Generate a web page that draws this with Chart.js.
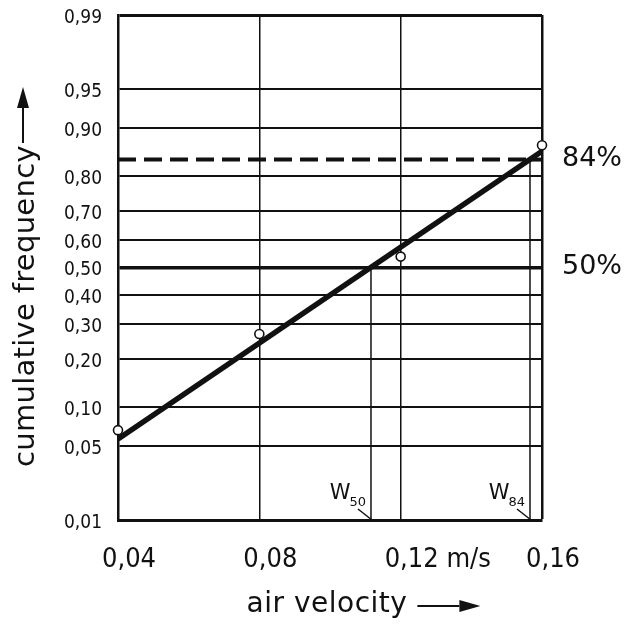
<!DOCTYPE html>
<html>
<head>
<meta charset="utf-8">
<title>cumulative frequency vs air velocity</title>
<script src="https://cdn.jsdelivr.net/npm/chart.js@4/dist/chart.umd.min.js"></script>
<style>
  html, body { margin: 0; padding: 0; background: #fff; }
  #wrap { width: 635px; height: 625px; }
</style>
</head>
<body>
<div id="wrap"><canvas id="probChart" width="635" height="625"></canvas></div>
<script>
// measured points (air velocity in m/s, cumulative frequency)
const velocity = [0.04, 0.08, 0.12, 0.16];
const cumFreq = [0.067, 0.27, 0.54, 0.87];

// fitted straight line in probability coordinates
const fitVelocity = [0.04, 0.16];
const fitFreq = [0.057, 0.858];

// characteristic velocities read at 50 % and 84 %
const w50 = 0.1116;
const w84 = 0.1566;
const levels = [0.84, 0.5];

// axis ticks
const probTicks = [0.01, 0.05, 0.10, 0.20, 0.30, 0.40, 0.50, 0.60, 0.70, 0.80, 0.90, 0.95, 0.99];
const velocityTicks = [0.04, 0.08, 0.12, 0.16];

const xTitle = "air velocity";
const yTitle = "cumulative frequency";

const TICK_FONT = "'DejaVu Sans Condensed', 'DejaVu Sans'";
const TEXT_FONT = "'DejaVu Sans'";

// inverse of the standard normal CDF (Acklam's approximation)
function probit(p) {
  const a = [-3.969683028665376e+01, 2.209460984245205e+02, -2.759285104469687e+02,
    1.383577518672690e+02, -3.066479806614716e+01, 2.506628277459239e+00];
  const b = [-5.447609879822406e+01, 1.615858368580409e+02, -1.556989798598866e+02,
    6.680131188771972e+01, -1.328068155288572e+01];
  const c = [-7.784894002430293e-03, -3.223964580411365e-01, -2.400758277161838e+00,
    -2.549732539343734e+00, 4.374664141464968e+00, 2.938163982698783e+00];
  const d = [7.784695709041462e-03, 3.224671290700398e-01, 2.445134137142996e+00,
    3.754408661907416e+00];
  const pl = 0.02425;
  if (p < pl) {
    const q = Math.sqrt(-2 * Math.log(p));
    return (((((c[0] * q + c[1]) * q + c[2]) * q + c[3]) * q + c[4]) * q + c[5]) /
      ((((d[0] * q + d[1]) * q + d[2]) * q + d[3]) * q + 1);
  }
  if (p > 1 - pl) {
    const q = Math.sqrt(-2 * Math.log(1 - p));
    return -(((((c[0] * q + c[1]) * q + c[2]) * q + c[3]) * q + c[4]) * q + c[5]) /
      ((((d[0] * q + d[1]) * q + d[2]) * q + d[3]) * q + 1);
  }
  const q = p - 0.5;
  const r = q * q;
  return (((((a[0] * r + a[1]) * r + a[2]) * r + a[3]) * r + a[4]) * r + a[5]) * q /
    (((((b[0] * r + b[1]) * r + b[2]) * r + b[3]) * r + b[4]) * r + 1);
}

const fmt = (v) => v.toFixed(2).replace(".", ",");
const pt = (x, p) => ({ x: x, y: probit(p) });

// labels, arrows and W markers drawn on top of the chart
const overlay = {
  id: "overlay",
  afterDatasetsDraw(chart) {
    const { ctx, chartArea: area, scales } = chart;
    const xs = scales.x, ys = scales.y;
    ctx.save();
    ctx.fillStyle = "#111";
    ctx.strokeStyle = "#111";

    // percentage marks on the right
    ctx.font = "27px " + TEXT_FONT;
    ctx.textAlign = "left";
    ctx.textBaseline = "middle";
    levels.forEach((p) => {
      const y = ys.getPixelForValue(probit(p));
      ctx.fillText(Math.round(p * 100) + "%", area.right + 20, y - 1);
    });

    // W50 / W84 labels with leader lines
    [[w50, "50"], [w84, "84"]].forEach(([w, sub]) => {
      const x = xs.getPixelForValue(w);
      const b = area.bottom;
      ctx.lineWidth = 1.5;
      ctx.beginPath();
      ctx.moveTo(x - 13, b - 11);
      ctx.lineTo(x + 1, b);
      ctx.stroke();
      ctx.textBaseline = "alphabetic";
      ctx.font = "13px " + TEXT_FONT;
      ctx.textAlign = "right";
      ctx.fillText(sub, x - 5, b - 14);
      const sw = ctx.measureText(sub).width;
      ctx.font = "21px " + TEXT_FONT;
      ctx.fillText("W", x - 4 - sw, b - 21);
    });

    // x axis title with arrow
    ctx.font = "28px " + TEXT_FONT;
    ctx.letterSpacing = "0.5px";
    ctx.textAlign = "center";
    ctx.textBaseline = "alphabetic";
    const cx = (area.left + area.right) / 2 - 3;
    const xw = ctx.measureText(xTitle).width;
    ctx.fillText(xTitle, cx, 612);
    drawArrow(ctx, cx + xw / 2 + 10, 606, cx + xw / 2 + 73, 606);

    // y axis title with arrow
    ctx.save();
    ctx.translate(34, 467);
    ctx.rotate(-Math.PI / 2);
    ctx.font = "29px " + TEXT_FONT;
    ctx.letterSpacing = "0.3px";
    ctx.textAlign = "left";
    const yw = ctx.measureText(yTitle).width;
    ctx.fillText(yTitle, 0, 0);
    drawArrow(ctx, yw + 2, -11, 380, -11);
    ctx.restore();

    ctx.restore();
  }
};

function drawArrow(ctx, x0, y0, x1, y1) {
  const len = Math.hypot(x1 - x0, y1 - y0);
  const ux = (x1 - x0) / len, uy = (y1 - y0) / len;
  const hx = x1 - ux * 21, hy = y1 - uy * 21;
  ctx.lineWidth = 2;
  ctx.beginPath();
  ctx.moveTo(x0, y0);
  ctx.lineTo(hx, hy);
  ctx.stroke();
  ctx.beginPath();
  ctx.moveTo(x1, y1);
  ctx.lineTo(hx - uy * 6, hy + ux * 6);
  ctx.lineTo(hx + uy * 6, hy - ux * 6);
  ctx.closePath();
  ctx.fill();
}

new Chart(document.getElementById("probChart"), {
  type: "scatter",
  data: {
    datasets: [
      {
        label: "measured",
        data: velocity.map((v, i) => pt(v, cumFreq[i])),
        pointRadius: 4.5,
        pointBackgroundColor: "#fff",
        pointBorderColor: "#111",
        pointBorderWidth: 1.6,
        showLine: false,
        clip: false,
        order: 0
      },
      {
        label: "fit",
        data: fitVelocity.map((v, i) => pt(v, fitFreq[i])),
        showLine: true,
        borderColor: "#111",
        borderWidth: 5.5,
        pointRadius: 0,
        order: 1
      },
      {
        label: "84 %",
        data: [pt(velocityTicks[0], levels[0]), pt(w84, levels[0]), pt(velocityTicks[3], levels[0])],
        showLine: true,
        borderColor: "#111",
        borderWidth: 4,
        pointRadius: 0,
        segment: { borderDash: (c) => (c.p0DataIndex === 0 ? [18, 8] : []) },
        order: 2
      },
      {
        label: "W50",
        data: [pt(w50, probTicks[0]), pt(w50, levels[1])],
        showLine: true,
        borderColor: "#111",
        borderWidth: 1.5,
        pointRadius: 0,
        order: 3
      },
      {
        label: "W84",
        data: [pt(w84, probTicks[0]), pt(w84, levels[0])],
        showLine: true,
        borderColor: "#111",
        borderWidth: 1.5,
        pointRadius: 0,
        order: 3
      }
    ]
  },
  options: {
    responsive: false,
    animation: false,
    devicePixelRatio: 1,
    layout: { padding: { top: 15, right: 93, left: 0, bottom: 0 } },
    plugins: { legend: { display: false }, tooltip: { enabled: false } },
    scales: {
      x: {
        type: "linear",
        min: velocityTicks[0],
        max: velocityTicks[velocityTicks.length - 1],
        afterBuildTicks: (s) => { s.ticks = velocityTicks.map((v) => ({ value: v })); },
        afterFit: (s) => { s.height = 105; },
        ticks: {
          callback: (v, i) => fmt(velocityTicks[i]) + (i === 2 ? " m/s" : ""),
          align: "start",
          labelOffset: -16,
          padding: 24,
          color: "#111",
          font: { family: TICK_FONT, size: 27 }
        },
        grid: {
          drawTicks: false,
          color: "#111",
          lineWidth: (c) => (c.index === velocityTicks.length - 1 ? 2.5 : 1.5)
        },
        border: { display: true, color: "#111", width: 3 }
      },
      y: {
        type: "linear",
        min: probit(probTicks[0]),
        max: probit(probTicks[probTicks.length - 1]),
        afterBuildTicks: (s) => { s.ticks = probTicks.map((p) => ({ value: probit(p) })); },
        afterFit: (s) => {
          s.width = 118;
          s.paddingTop = 0;
          s.paddingBottom = 0;
        },
        ticks: {
          callback: (v, i) => fmt(probTicks[i]),
          padding: 16,
          labelOffset: 3,
          color: "#111",
          font: { family: TICK_FONT, size: 19 }
        },
        grid: {
          drawTicks: false,
          color: "#111",
          lineWidth: (c) => {
            const p = probTicks[c.index];
            if (p === 0.5) return 3.5;
            if (p === 0.99 || p === 0.01) return 3;
            return 2;
          }
        },
        border: { display: true, color: "#111", width: 2.5 }
      }
    }
  },
  plugins: [overlay]
});
</script>
</body>
</html>
